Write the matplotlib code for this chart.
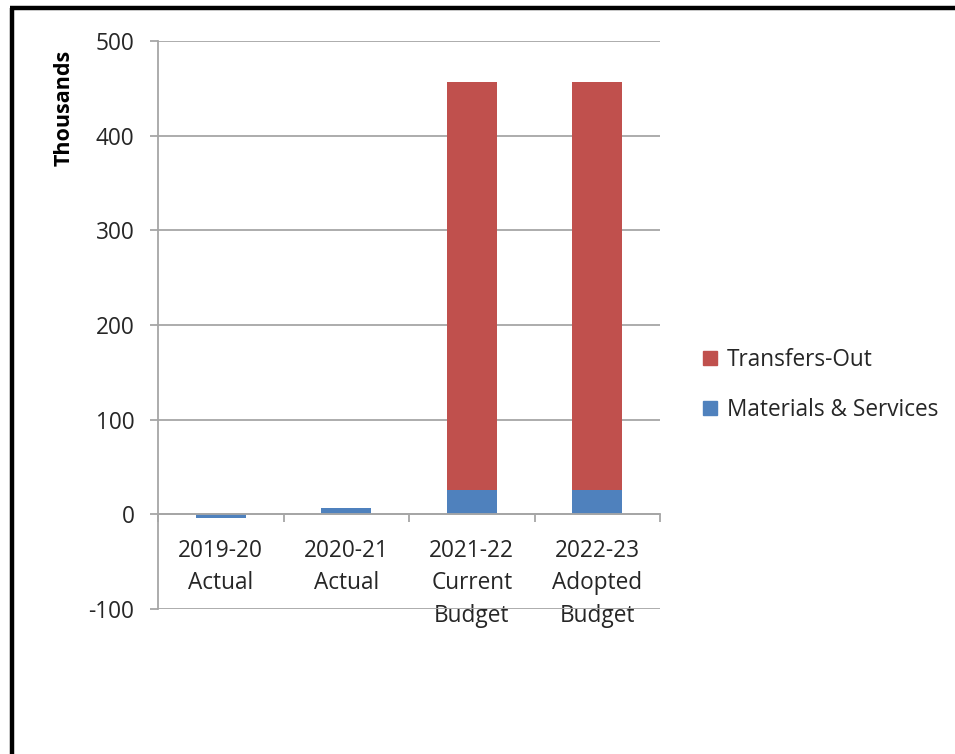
import matplotlib
matplotlib.use("Agg")
import matplotlib.pyplot as plt
from matplotlib.patches import Rectangle
from matplotlib.lines import Line2D

plt.rcParams['font.family'] = ['Open Sans', 'DejaVu Sans']

categories = ["2019-20\nActual", "2020-21\nActual", "2021-22\nCurrent\nBudget", "2022-23\nAdopted\nBudget"]
materials_services = [-3.5, 6.3, 25.6, 25.6]
transfers_out = [0.0, 0.0, 431.5, 431.5]
y_ticks = [-100, 0, 100, 200, 300, 400, 500]

RED = "#C0504D"
BLUE = "#4F81BD"
GRID = "#A6A6A6"
TEXT = "#262626"
FS = 16.3

fig = plt.figure(figsize=(9.55, 7.54), dpi=100)
ax = fig.add_axes([158 / 955, 1 - 609 / 754, (660 - 158) / 955, (609 - 41) / 754])

x = list(range(len(categories)))
width = 0.4
ax.bar(x, materials_services, width, color=BLUE, zorder=3, label="Materials & Services")
ax.bar(x, transfers_out, width, bottom=[max(m, 0) for m in materials_services],
       color=RED, zorder=3, label="Transfers-Out")

ax.set_xlim(-0.5, len(categories) - 0.5)
ax.set_ylim(-100, 500)
ax.set_yticks(y_ticks)
ax.set_yticklabels([str(v) for v in y_ticks], fontsize=FS, color=TEXT)
ax.yaxis.grid(True, color=GRID, linewidth=1.3, zorder=0)
ax.set_axisbelow(True)

for side in ("top", "right"):
    ax.spines[side].set_visible(False)
ax.spines["left"].set_color(GRID)
ax.spines["left"].set_linewidth(1.3)
ax.spines["bottom"].set_position(("data", 0))
ax.spines["bottom"].set_color(GRID)
ax.spines["bottom"].set_linewidth(1.3)
ax.spines["bottom"].set_zorder(4)

ax.tick_params(axis="y", direction="out", length=6, width=1.3, color=GRID, pad=11)
ax.set_xticks(x)
ax.set_xticklabels(categories, fontsize=FS, color=TEXT, linespacing=1.45)
ax.tick_params(axis="x", which="major", length=0, pad=18)
ax.set_xticks([i - 0.5 for i in range(len(categories) + 1)], minor=True)
ax.tick_params(axis="x", which="minor", direction="out", length=6, width=1.3, color=GRID)

fig.text(64 / 955, 1 - 108 / 754, "Thousands", rotation=90, ha="center", va="center",
         fontsize=15.5, fontweight="bold", color="black")

handles = [Rectangle((0, 0), 1, 1, color=RED), Rectangle((0, 0), 1, 1, color=BLUE)]
fig.legend(handles, ["Transfers-Out", "Materials & Services"], loc="center left",
           bbox_to_anchor=(683 / 955, 1 - 385 / 754), frameon=False, fontsize=FS,
           handlelength=0.6, handleheight=0.6, handletextpad=0.45, labelspacing=1.15,
           labelcolor=TEXT)

# outer frame
fig.add_artist(Line2D([12 / 955, 12 / 955], [0, 1 - 8 / 754], transform=fig.transFigure,
                      color="black", linewidth=3.2, solid_capstyle="butt"))
fig.add_artist(Line2D([10.4 / 955, 1], [1 - 8 / 754, 1 - 8 / 754], transform=fig.transFigure,
                      color="black", linewidth=3.2, solid_capstyle="butt"))

fig.savefig("out.png", dpi=100)
